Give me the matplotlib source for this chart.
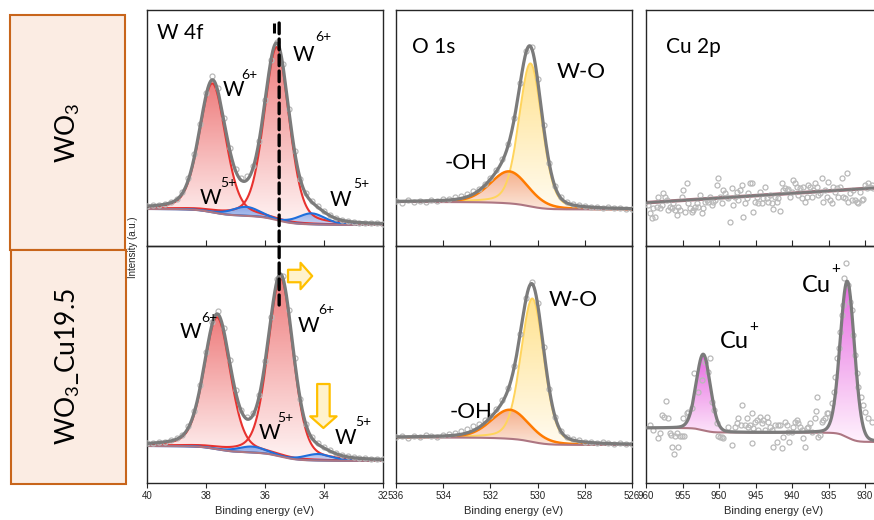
import numpy as np
import matplotlib
matplotlib.use('Agg')
import matplotlib.pyplot as plt
from matplotlib.patches import Rectangle, ConnectionPatch
from matplotlib.colors import to_rgb

# ---------------- data ----------------
# W 4f fitted components (centre eV, height, FWHM eV), Shirley background [low-BE end, high-BE end]
w_species = ['W6+', 'W6+', 'W5+', 'W5+']
w_top_center = [37.78, 35.60, 36.64, 34.42]
w_top_height = [129, 173, 9, 11]
w_top_fwhm = [1.05, 1.0, 1.1, 1.1]
w_top_bg = [21, 37]
w_bot_center = [37.62, 35.47, 36.45, 34.20]
w_bot_height = [132, 179, 6, 6.5]
w_bot_fwhm = [1.05, 1.0, 1.1, 1.1]
w_bot_bg = [22, 37]

# W 4f measured points
w_be = [40.0, 39.8, 39.6, 39.4, 39.2, 39.0, 38.8, 38.6, 38.4, 38.2, 38.0, 37.8, 37.6, 37.4,
        37.2, 37.0, 36.8, 36.6, 36.4, 36.2, 36.0, 35.8, 35.6, 35.4, 35.2, 35.0, 34.8, 34.6,
        34.4, 34.2, 34.0, 33.8, 33.6, 33.4, 33.2, 33.0, 32.8, 32.6, 32.4, 32.2, 32.0]
w_top_int = [40, 41, 41, 42, 44, 47, 54, 68, 92, 122, 153, 170, 158, 128, 98, 77, 68, 70, 80,
             105, 146, 186, 204, 182, 137, 95, 67, 53, 45, 40, 35, 31, 28, 26, 25, 24, 23, 23,
             23, 23, 22]
w_bot_int = [40, 40, 41, 41, 43, 45, 48, 57, 72, 98, 131, 161, 172, 155, 123, 93, 73, 66, 70,
             88, 122, 166, 204, 207, 173, 125, 84, 59, 46, 40, 36, 33, 30, 28, 27, 26, 25, 25,
             24, 24, 24]

# O 1s fitted components
o_species = ['W-O', '-OH']
o_top_center = [530.30, 531.20]
o_top_height = [143, 32]
o_top_fwhm = [1.15, 1.9]
o_top_bg = [36.5, 44]
o_bot_center = [530.22, 531.17]
o_bot_height = [143.4, 29]
o_bot_fwhm = [1.15, 1.9]
o_bot_bg = [38, 45.5]

# O 1s measured points
o_be = [536.0, 535.75, 535.5, 535.25, 535.0, 534.75, 534.5, 534.25, 534.0, 533.75, 533.5,
        533.25, 533.0, 532.75, 532.5, 532.25, 532.0, 531.75, 531.5, 531.25, 531.0, 530.75,
        530.5, 530.25, 530.0, 529.75, 529.5, 529.25, 529.0, 528.75, 528.5, 528.25, 528.0,
        527.75, 527.5, 527.25, 527.0, 526.75, 526.5, 526.25, 526.0]
o_top_int = [45, 43, 46, 44, 45, 44, 46, 45, 47, 47, 49, 50, 52, 55, 57, 62, 68, 76, 87, 102,
             128, 163, 195, 199, 167, 121, 83, 60, 49, 44, 42, 41, 40, 39, 39, 38, 39, 38, 38,
             37, 37]
o_bot_int = [46, 47, 45, 47, 46, 48, 47, 46, 48, 49, 50, 52, 54, 57, 59, 63, 67, 74, 83, 95,
             117, 149, 185, 201, 180, 136, 94, 66, 52, 46, 44, 43, 41, 41, 40, 41, 40, 39, 40,
             39, 39]

# Cu 2p
cu_top_bg_be = [960, 925]
cu_top_bg = [43.3, 59.8]
cu_top_be_range = [959.68, 928.86]
cu_top_int = [41, 33, 28, 38, 29, 39, 49, 38, 41, 53, 49, 46, 36, 39, 38, 43, 36, 31, 39, 36,
              49, 56, 34, 63, 43, 38, 34, 36, 39, 43, 39, 51, 33, 38, 44, 46, 44, 49, 41, 44,
              46, 61, 68, 49, 43, 56, 53, 49, 48, 24, 58, 41, 49, 54, 46, 56, 61, 29, 43, 48,
              53, 63, 63, 34, 44, 49, 43, 54, 43, 48, 59, 48, 44, 51, 43, 37, 49, 44, 48, 35,
              63, 56, 58, 56, 57, 49, 54, 66, 63, 59, 51, 58, 48, 59, 44, 49, 61, 59, 49, 56,
              63, 59, 51, 53, 68, 44, 56, 49, 64, 46, 43, 59, 54, 58, 49, 59, 68, 49, 48, 73,
              44, 53, 46, 56, 46, 44, 43, 54, 46, 47, 61, 58, 63, 59, 61, 58]
cu_bot_center = [952.15, 932.42]
cu_bot_height = [76, 156]
cu_bot_fwhm = [2.3, 2.3]
cu_bot_bg = [41, 55]
cu_bot_be = [959.45, 959.00, 958.31, 958.08, 957.85, 957.49, 957.31, 956.94, 956.71, 956.58,
             956.39, 956.12, 956.03, 955.80, 955.57, 955.34, 955.11, 954.89, 954.75, 954.43,
             954.20, 953.74, 953.38, 952.83, 952.37, 951.92, 951.55, 951.23, 950.91, 950.64,
             950.32, 950.09, 949.86, 949.63, 949.41, 948.72, 948.26, 947.81, 947.58, 947.35,
             946.99, 946.80, 946.44, 946.21, 945.98, 945.75, 945.53, 945.43, 945.30, 945.07,
             944.84, 944.61, 944.38, 944.16, 943.93, 943.70, 943.47, 943.24, 943.01, 942.79,
             942.56, 942.33, 942.10, 941.87, 941.64, 941.42, 941.19, 940.96, 940.73, 940.50,
             940.41, 940.05, 939.82, 939.59, 939.36, 939.13, 938.90, 938.68, 938.45, 938.22,
             937.99, 937.76, 937.53, 937.31, 936.85, 936.76, 936.62, 936.39, 936.16, 935.94,
             935.71, 935.48, 935.25, 935.02, 934.57, 934.20, 934.11, 933.88, 933.56, 933.42,
             933.20, 932.97, 932.83, 932.65, 932.28, 932.05, 931.83, 931.60, 931.37, 931.14,
             930.91, 930.55, 930.23, 930.00, 929.54, 929.09]
cu_bot_int = [58, 53, 44.7, 49.7, 68, 66.3, 82, 65.3, 50.3, 48, 36.3, 28.7, 47, 49.7, 36.3,
              47, 47.3, 64.7, 47, 69.7, 71.3, 74.7, 109.7, 91.3, 103, 121.3, 111.3, 124.7,
              81.3, 73, 59.7, 47, 46.3, 46.3, 45.3, 56.3, 38, 56.3, 59.7, 64.7, 58, 78, 58,
              64.7, 56.3, 58, 69.7, 39.7, 54.7, 61.3, 63, 53, 66.3, 59.7, 63, 53, 66.3, 61.3,
              56.3, 53, 36.3, 58, 41.3, 58, 58, 34.7, 46.3, 61.3, 58, 51.3, 41.3, 51.3, 56.3,
              61.3, 63, 59.7, 56.3, 53, 44.7, 36.3, 54.7, 56.3, 59.7, 51.3, 64.7, 72, 86.3,
              46.3, 48, 61.3, 63, 64.7, 69.7, 69.7, 79.7, 91.3, 106.3, 124.7, 134.7, 151.3,
              168, 178, 204.7, 219.7, 198, 181.3, 173, 148, 128, 109.7, 96.3, 86.3, 78, 71.3,
              64.7, 61.3]

sample_labels = ['WO$_\\mathregular{3}$', 'WO$_\\mathregular{3}$_Cu19.5']
w_ticks = [40, 38, 36, 34, 32]
o_ticks = [536, 534, 532, 530, 528, 526]
cu_ticks = [960, 955, 950, 945, 940, 935, 930]
shift_line_be = 35.52

# ---------------- helpers ----------------
TXT = 'Lato'
TICKF = 'Liberation Sans'
GRAY = '#7b7b7b'
PT = '#b9b9b9'
BGC = '#ad7682'


def pv(x, c, h, w, eta):
    d = (x - c) / w
    return h * (eta / (1 + 4 * d ** 2) + (1 - eta) * np.exp(-4 * np.log(2) * d ** 2))


def model(x, centers, heights, fwhms, bg, eta):
    comps = [pv(x, c, h, w, eta) for c, h, w in zip(centers, heights, fwhms)]
    s = np.sum(comps, axis=0)
    cum = np.cumsum(s)
    b = bg[0] + (bg[1] - bg[0]) * cum / cum[-1]
    return comps, b, b + s


def grad_fill(ax, x, ylo, yhi, ctop, cbot, alpha=1.0, z=1.0):
    coll = ax.fill_between(x, ylo, yhi, facecolor='none', edgecolor='none', lw=0)
    path = coll.get_paths()[0]
    n = 256
    t = np.linspace(0, 1, n)[:, None, None]
    c0 = np.array(to_rgb(cbot))
    c1 = np.array(to_rgb(ctop))
    rgb = c0 + (c1 - c0) * t
    rgba = np.concatenate([rgb, np.full((n, 1, 1), alpha)], axis=2)
    im = ax.imshow(rgba, extent=[x.min(), x.max(), ylo.min(), yhi.max()], origin='lower',
                   aspect='auto', zorder=z, interpolation='bilinear')
    im.set_clip_path(path, ax.transData)


def style_axis(ax, xlim, ylim, ticks, bottom):
    ax.set_xlim(*xlim)
    ax.set_ylim(*ylim)
    ax.set_yticks([])
    ax.set_xticks(ticks)
    ax.patch.set_alpha(0)
    for s in ax.spines.values():
        s.set_color('#262626')
        s.set_linewidth(1.0)
    if bottom:
        ax.tick_params(axis='x', direction='out', length=3.5, width=0.8, colors='#262626',
                       labelsize=7, pad=2)
        for lab in ax.get_xticklabels():
            lab.set_family(TICKF)
        ax.set_xlabel('Binding energy (eV)', fontsize=8, family=TICKF, labelpad=4, color='#262626')
    else:
        ax.tick_params(axis='x', direction='in', length=4, width=0.8, colors='#262626',
                       labelbottom=False)


def sup_label(ax, x1, y1, main, x2, y2, sup, size=15, ssize=10):
    ax.text(x1, y1, main, fontsize=size, family=TXT, ha='left', va='center', zorder=10)
    ax.text(x2, y2, sup, fontsize=ssize, family=TXT, ha='left', va='center', zorder=10)


# ---------------- figure ----------------
fig = plt.figure(figsize=(8.74, 5.2), dpi=100)
fig.patch.set_facecolor('white')
W, H = 874.0, 520.0


def axes_px(left, top, width, height):
    return fig.add_axes([left / W, (H - top - height) / H, width / W, height / H])


axW1 = axes_px(147, 10, 236, 236)
axW2 = axes_px(147, 246, 236, 237)
axO1 = axes_px(396, 10, 236, 236)
axO2 = axes_px(396, 246, 236, 237)
axC1 = axes_px(646, 10, 255.5, 236)
axC2 = axes_px(646, 246, 255.5, 237)

# ---- W 4f ----
xw = np.linspace(32, 40, 1601)
for ax, cen, hei, fw, bg, data, ylim, bottom in [
        (axW1, w_top_center, w_top_height, w_top_fwhm, w_top_bg, w_top_int, (0, 236), False),
        (axW2, w_bot_center, w_bot_height, w_bot_fwhm, w_bot_bg, w_bot_int, (0, 237), True)]:
    comps, b, env = model(xw, cen, hei, fw, bg, 0.3)
    for comp, sp in zip(comps, w_species):
        if sp == 'W6+':
            grad_fill(ax, xw, b, b + comp, '#ee7d7d', '#fff4f4', 1.0, 1.0)
    for comp, sp in zip(comps, w_species):
        if sp == 'W5+':
            grad_fill(ax, xw, b, b + comp, '#7f9fe6', '#c3d1f3', 0.9, 1.1)
    for comp, sp in zip(comps, w_species):
        col = '#e8322f' if sp == 'W6+' else '#1f6fdc'
        ax.plot(xw, b + comp, color=col, lw=1.5, zorder=2)
    ax.plot(xw, b, color=BGC, lw=1.5, zorder=2.5)
    ax.plot(w_be, data, 'o', ms=3.6, mfc='none', mec=PT, mew=0.9, zorder=3, clip_on=True)
    ax.plot(xw, env, color=GRAY, lw=2.3, zorder=4)
    style_axis(ax, (40, 32), ylim, w_ticks, bottom)

axW1.text(39.66, 213, 'W 4f', fontsize=15, family=TXT, ha='left', va='center')
sup_label(axW1, 37.42, 156, 'W', 36.79, 171, '6+')
sup_label(axW1, 35.05, 191, 'W', 34.31, 209, '6+')
sup_label(axW1, 38.20, 48, 'W', 37.53, 63, '5+')
sup_label(axW1, 33.80, 46, 'W', 33.01, 62, '5+')

sup_label(axW2, 38.88, 151, 'W', 38.15, 165, '6+')
sup_label(axW2, 34.90, 157, 'W', 34.19, 173, '6+')
sup_label(axW2, 36.23, 50, 'W', 35.60, 65, '5+')
sup_label(axW2, 33.63, 45, 'W', 32.95, 61, '5+')

# shift markers
con = ConnectionPatch(xyA=(shift_line_be, 223), coordsA=axW1.transData,
                      xyB=(shift_line_be, 178), coordsB=axW2.transData,
                      color='black', lw=2.4, linestyle=(0, (3.2, 1.6)), zorder=20)
fig.add_artist(con)
axW1.plot([35.69, 35.69], [223, 213], color='black', lw=2.2, zorder=20, solid_capstyle='butt')

arrow_kw = dict(arrowstyle='simple,head_length=0.42,head_width=0.95,tail_width=0.45',
                fc='#fff2cc', ec='#ffc000', lw=1.6, shrinkA=0, shrinkB=0, mutation_scale=20)
axW2.annotate('', xy=(34.40, 207), xytext=(35.22, 207), arrowprops=arrow_kw, zorder=15)
axW2.annotate('', xy=(34.02, 55), xytext=(34.02, 99), arrowprops=arrow_kw, zorder=15)

# ---- O 1s ----
xo = np.linspace(526, 536, 2001)
for ax, cen, hei, fw, bg, data, ylim, bottom in [
        (axO1, o_top_center, o_top_height, o_top_fwhm, o_top_bg, o_top_int, (0, 236), False),
        (axO2, o_bot_center, o_bot_height, o_bot_fwhm, o_bot_bg, o_bot_int, (0, 237), True)]:
    comps, b, env = model(xo, cen, hei, fw, bg, 0.25)
    grad_fill(ax, xo, b, b + comps[0], '#ffe28f', '#fffbf0', 1.0, 1.0)
    grad_fill(ax, xo, b, b + comps[1], '#f4a37e', '#fbe3d6', 0.85, 1.1)
    ax.plot(xo, b + comps[0], color='#ffd45c', lw=1.4, zorder=2)
    ax.plot(xo, b + comps[1], color='#ff7b00', lw=1.8, zorder=2.1)
    ax.plot(xo, b, color=BGC, lw=1.5, zorder=2.5)
    ax.plot(o_be, data, 'o', ms=3.6, mfc='none', mec=PT, mew=0.9, zorder=3)
    ax.plot(xo, env, color=GRAY, lw=2.3, zorder=4)
    style_axis(ax, (536, 526), ylim, o_ticks, bottom)

axO1.text(535.33, 199, 'O 1s', fontsize=15, family=TXT, ha='left', va='center')
axO1.text(529.19, 174, o_species[0], fontsize=16, family=TXT, ha='left', va='center')
axO1.text(533.92, 83, o_species[1], fontsize=16, family=TXT, ha='left', va='center')
axO2.text(529.55, 183, o_species[0], fontsize=16, family=TXT, ha='left', va='center')
axO2.text(533.71, 71, o_species[1], fontsize=16, family=TXT, ha='left', va='center')

# ---- Cu 2p ----
cu_top_be = np.linspace(cu_top_be_range[0], cu_top_be_range[1], len(cu_top_int))
axC1.plot(cu_top_be, cu_top_int, 'o', ms=3.6, mfc='none', mec=PT, mew=0.9, zorder=3)
axC1.plot(cu_top_bg_be, cu_top_bg, color=BGC, lw=2.6, zorder=2.5)
axC1.plot(cu_top_bg_be, cu_top_bg, color=GRAY, lw=1.8, zorder=4)
style_axis(axC1, (960, 925), (0, 236), cu_ticks, False)
axC1.text(957.3, 199, 'Cu 2p', fontsize=15, family=TXT, ha='left', va='center')

xc = np.linspace(925, 960, 2001)
comps, b, env = model(xc, cu_bot_center, cu_bot_height, cu_bot_fwhm, cu_bot_bg, 0.1)
for comp in comps:
    grad_fill(axC2, xc, b, b + comp, '#e66ae0', '#fff2fd', 1.0, 1.0)
axC2.plot(xc, b, color=BGC, lw=1.5, zorder=2.5)
axC2.plot(cu_bot_be, cu_bot_int, 'o', ms=3.6, mfc='none', mec=PT, mew=0.9, zorder=3)
axC2.plot(xc, env, color=GRAY, lw=2.3, zorder=4)
style_axis(axC2, (960, 925), (0, 237), cu_ticks, True)
sup_label(axC2, 949.86, 141, 'Cu', 945.89, 156, '+', 17, 11)
sup_label(axC2, 938.67, 198, 'Cu', 934.66, 214, '+', 17, 11)

# ---- side labels ----
for (x0, top, w, h), lab in zip([(9.5, 15, 115.5, 235), (10.5, 250, 115, 234)], sample_labels):
    fig.add_artist(Rectangle((x0 / W, (H - top - h) / H), w / W, h / H, transform=fig.transFigure,
                             facecolor='#fbece3', edgecolor='#c8651b', lw=1.5, zorder=0))
    fig.text((x0 + w / 2) / W, (H - top - h / 2) / H, lab, rotation=90, ha='center',
             va='center', fontsize=19, family=TXT)

fig.text(133 / W, (H - 247) / H, 'Intensity (a.u.)', rotation=90, ha='center', va='center',
         fontsize=7, family=TICKF, color='#262626')

fig.savefig('out.png', dpi=100, facecolor='white')
